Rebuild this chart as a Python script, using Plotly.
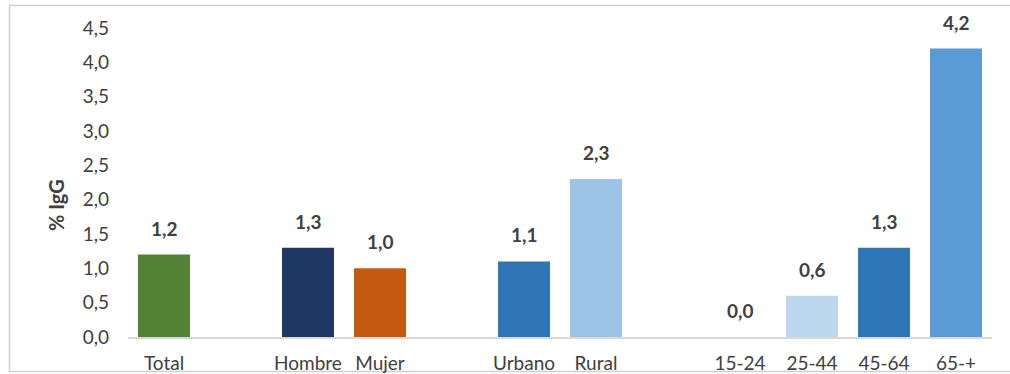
import plotly.graph_objects as go

# Category slots (blank entries separate the groups)
categories = ["Total", " ", "Hombre", "Mujer", "  ", "Urbano", "Rural", "   ",
              "15-24", "25-44", "45-64", "65-+"]
values = [1.2, None, 1.3, 1.0, None, 1.1, 2.3, None, 0.0, 0.6, 1.3, 4.2]
colors = ["#548235", "#ffffff", "#203864", "#C55A11", "#ffffff", "#2E75B6",
          "#9DC3E6", "#ffffff", "#BDD7EE", "#BDD7EE", "#2E75B6", "#5B9BD5"]
y_ticks = [0, 0.5, 1.0, 1.5, 2.0, 2.5, 3.0, 3.5, 4.0, 4.5]

FONT = "Lato"
TXT = "#404040"

fig = go.Figure()
fig.add_trace(go.Bar(
    x=categories,
    y=values,
    marker=dict(color=colors, line=dict(width=0)),
    hoverinfo="skip",
))

# Value labels above each bar
for cat, v in zip(categories, values):
    if v is None:
        continue
    fig.add_annotation(
        x=cat, y=v, xref="x", yref="y",
        text=f"<b>{v:.1f}</b>".replace(".", ","),
        showarrow=False, yanchor="bottom", yshift=13,
        font=dict(family=FONT, size=19, color=TXT),
    )

W, H = 1010, 374
ML, MR, MT, MB = 128, 18, 28, 37
pw, ph = W - ML - MR, H - MT - MB


def px(xp):
    return (xp - ML) / pw


def py(yp):
    return (H - MB - yp) / ph


# Outer chart border
fig.add_shape(type="rect", xref="paper", yref="paper",
              x0=px(9.5), x1=px(1013), y0=py(371.5), y1=py(5.5),
              line=dict(color="#d0d0d0", width=1.5), layer="below")

# Y-axis title
fig.add_annotation(
    xref="paper", yref="paper", x=px(56), y=py(205),
    text="<b>% IgG</b>", textangle=-90, showarrow=False,
    xanchor="center", yanchor="middle",
    font=dict(family=FONT, size=20, color=TXT),
)

fig.update_layout(
    width=W, height=H,
    margin=dict(l=ML, r=MR, t=MT, b=MB, autoexpand=False),
    paper_bgcolor="white", plot_bgcolor="white",
    separators=",.",
    bargap=0.278,
    showlegend=False,
    font=dict(family=FONT, size=19, color=TXT),
    xaxis=dict(
        type="category", categoryorder="array", categoryarray=categories,
        showgrid=False, showline=True, linecolor="#d9d9d9", linewidth=2,
        ticks="", ticklabelstandoff=8, automargin=False,
        tickfont=dict(family=FONT, size=19, color=TXT),
        range=[-0.5, len(categories) - 0.5],
    ),
    yaxis=dict(
        range=[0, 4.5], tickvals=y_ticks, tickformat=".1f",
        showgrid=False, showline=False, zeroline=False, ticks="",
        ticklabelstandoff=18, automargin=False,
        tickfont=dict(family=FONT, size=19, color=TXT),
    ),
)

fig.write_html("out.html")
